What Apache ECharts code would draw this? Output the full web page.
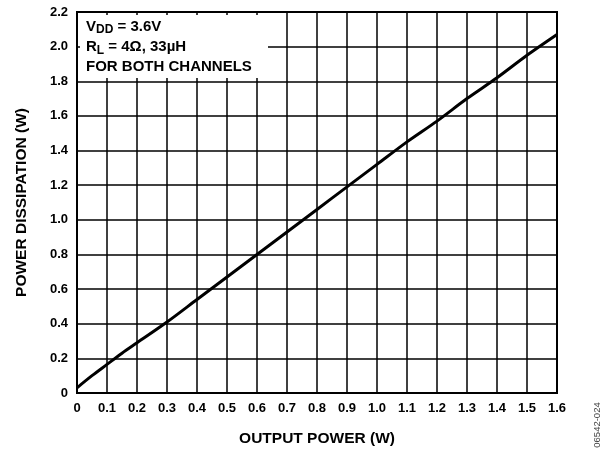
<!DOCTYPE html>
<html>
<head>
<meta charset="utf-8">
<script src="https://cdn.jsdelivr.net/npm/echarts@6/dist/echarts.min.js"></script>
<style>html,body{margin:0;padding:0;background:#fff;}#c{width:610px;height:452px;}</style>
</head>
<body>
<div id="c"></div>
<script>
const outputPower = [0, 0.05, 0.1, 0.15, 0.2, 0.3, 0.4, 0.5, 0.6, 0.7, 0.8, 0.9, 1.0, 1.1, 1.2, 1.3, 1.4, 1.5, 1.6];
const powerDissipation = [0.03, 0.10, 0.165, 0.23, 0.29, 0.41, 0.54, 0.67, 0.80, 0.93, 1.06, 1.19, 1.32, 1.45, 1.57, 1.70, 1.82, 1.95, 2.07];
const xTitle = 'OUTPUT POWER (W)';
const yTitle = 'POWER DISSIPATION (W)';
const noteLines = ['V{sub|DD} = 3.6V', 'R{sub|L} = 4Ω, 33µH', 'FOR BOTH CHANNELS'];
const figId = '06542-024';

const chart = echarts.init(document.getElementById('c'));
const font = 'Liberation Sans, Arial, sans-serif';
const fmt = v => (Math.abs(v) < 1e-9 ? '0' : (Math.round(v * 10) / 10).toFixed(1));
const gl = {left: 77, top: 12, width: 480, height: 385};
const subStyle = {fontFamily: font, fontWeight: 'bold', fontSize: 12, padding: [7, 0, 0, 0], fill: '#000'};
chart.setOption({
  animation: false,
  backgroundColor: '#fff',
  grid: {left: gl.left, top: gl.top, width: gl.width, height: gl.height, show: true, borderColor: '#000', borderWidth: 2, backgroundColor: 'transparent'},
  xAxis: {
    type: 'value', min: 0, max: 1.6, interval: 0.1,
    name: xTitle, nameLocation: 'middle', nameGap: 38,
    nameTextStyle: {fontFamily: font, fontWeight: 'bold', fontSize: 15.5, color: '#000'},
    axisLine: {show: true, lineStyle: {color: '#000', width: 2}},
    axisTick: {show: false},
    axisLabel: {formatter: fmt, margin: 9, fontFamily: font, fontWeight: 'bold', fontSize: 13, color: '#000'},
    splitLine: {show: true, lineStyle: {color: '#000', width: 1.5}}
  },
  yAxis: {
    type: 'value', min: 0, max: 2.2, interval: 0.2,
    name: yTitle, nameLocation: 'middle', nameGap: 47,
    nameTextStyle: {fontFamily: font, fontWeight: 'bold', fontSize: 15.5, color: '#000'},
    axisLine: {show: true, lineStyle: {color: '#000', width: 2}},
    axisTick: {show: false},
    axisLabel: {formatter: fmt, margin: 9, fontFamily: font, fontWeight: 'bold', fontSize: 13, color: '#000'},
    splitLine: {show: true, lineStyle: {color: '#000', width: 1.5}}
  },
  series: [{
    type: 'line', data: outputPower.map((x, i) => [x, powerDissipation[i]]),
    showSymbol: false, symbol: 'none', smooth: 0.3,
    lineStyle: {color: '#000', width: 3}, z: 3
  }],
  graphic: [
    {type: 'rect', z: 100, shape: {x: 80, y: 15, width: 188, height: 63}, style: {fill: '#fff'}},
    {type: 'text', z: 101, left: 86, top: 19, style: {text: noteLines[0], fontFamily: font, fontWeight: 'bold', fontSize: 15, fill: '#000', rich: {sub: subStyle}}},
    {type: 'text', z: 101, left: 86, top: 39.5, style: {text: noteLines[1], fontFamily: font, fontWeight: 'bold', fontSize: 15, fill: '#000', rich: {sub: subStyle}}},
    {type: 'text', z: 101, left: 86, top: 59, style: {text: noteLines[2], fontFamily: font, fontWeight: 'bold', fontSize: 15, fill: '#000'}},
    {type: 'text', z: 101, x: 597, y: 425, rotation: Math.PI / 2, style: {text: figId, fontFamily: font, fontSize: 9.5, fill: '#444', align: 'center', verticalAlign: 'middle'}}
  ]
});
</script>
</body>
</html>
